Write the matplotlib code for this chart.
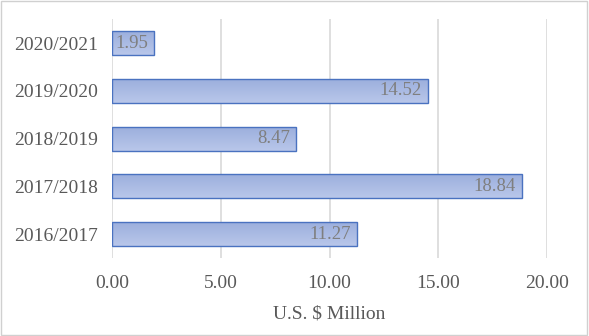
import numpy as np
import matplotlib.pyplot as plt
from matplotlib.patches import Rectangle

# Data
seasons = ['2016/2017', '2017/2018', '2018/2019', '2019/2020', '2020/2021']
values = [11.27, 18.84, 8.47, 14.52, 1.95]
x_ticks = [0, 5, 10, 15, 20]

plt.rcParams['font.family'] = ['Liberation Serif', 'DejaVu Serif']

fig = plt.figure(figsize=(5.89, 3.36), dpi=100)
ax = fig.add_axes([0.190, 0.232, 0.739, 0.711])

# figure border
fig.patches.append(Rectangle((0.002, 0.003), 0.995, 0.993, transform=fig.transFigure,
                             fill=False, edgecolor='#d0d0d0', linewidth=1.0))

ypos = np.arange(len(seasons))
bars = ax.barh(ypos, values, height=0.5, color='none', edgecolor='#4a72c0',
               linewidth=1.0, zorder=3)

# vertical gradient fill inside each bar
grad = np.linspace(0, 1, 64).reshape(-1, 1)
cmap = plt.matplotlib.colors.LinearSegmentedColormap.from_list(
    'barfill', ['#b9c7ea', '#9cafdd'])
for b in bars:
    x0, y0 = b.get_x(), b.get_y()
    w, h = b.get_width(), b.get_height()
    im = ax.imshow(grad, extent=[x0, x0 + w, y0, y0 + h], aspect='auto',
                   cmap=cmap, origin='lower', zorder=2)
    im.set_clip_path(b)

for y, v in zip(ypos, values):
    ax.text(v - 0.3, y, f'{v:.2f}', ha='right', va='center',
            fontsize=13.5, color='#7f7f7f', zorder=4)

ax.set_xlim(0, 20)
ax.set_ylim(-0.5, len(seasons) - 0.5)
ax.set_xticks(x_ticks)
ax.set_xticklabels([f'{t:.2f}' for t in x_ticks])
ax.set_yticks(ypos)
ax.set_yticklabels(seasons)
ax.tick_params(axis='both', length=0, labelsize=14, colors='#595959')
ax.tick_params(axis='x', pad=12)
ax.tick_params(axis='y', pad=10)
ax.xaxis.grid(True, color='#d9d9d9', linewidth=1.2, zorder=0)
ax.set_axisbelow(True)
for s in ax.spines.values():
    s.set_visible(False)

ax.set_xlabel('U.S. $ Million', fontsize=14, color='#595959', labelpad=10)

fig.savefig('out.png', dpi=100)
